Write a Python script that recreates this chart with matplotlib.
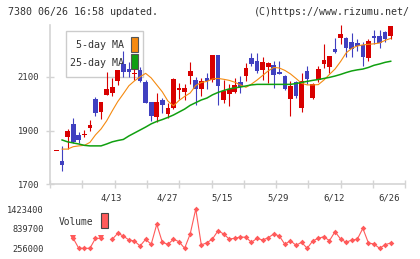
import matplotlib
matplotlib.use('Agg')
import matplotlib.pyplot as plt
import matplotlib.transforms as mtransforms
from matplotlib.patches import Rectangle
import numpy as np

nan = np.nan

# Daily candles (61 trading days)
opens = [1823, 1788, 1875, 1925, 1884, 1885, 1910, 2017, 1970, 2034,
         2040, 2085, 2146, 2129, 2112, 2126, 2082, 2006, 1950, 2014,
         1961, 1985, 2050, 2044, 2104, 2088, 2054, 2096, 2088, 2181,
         2014, 2036, 2042, 2081, 2104, 2169, 2158, 2127, 2138, 2144,
         2119, 2104, 2018, 2081, 1985, 2122, 2020, 2088, 2146, 2138,
         2204, 2246, 2245, 2230, 2225, 2219, 2171, 2252, 2252, 2267,
         2252]
highs = [1823, 1844, 1905, 1948, 1893, 1902, 1940, 2025, 2008, 2117,
         2096, 2127, 2197, 2154, 2130, 2138, 2090, 2007, 2039, 2023,
         2002, 2097, 2078, 2075, 2155, 2100, 2096, 2114, 2183, 2183,
         2088, 2072, 2095, 2103, 2152, 2187, 2189, 2173, 2157, 2160,
         2160, 2107, 2085, 2086, 2113, 2141, 2076, 2141, 2222, 2179,
         2246, 2293, 2249, 2265, 2241, 2231, 2241, 2275, 2275, 2272,
         2290]
lows = [1823, 1751, 1833, 1855, 1852, 1877, 1897, 1953, 1943, 2034,
        2029, 2070, 2100, 2101, 2088, 2082, 2003, 1937, 1932, 1967,
        1946, 1979, 2018, 2014, 2072, 1994, 2029, 2055, 2082, 1995,
        2004, 1992, 2041, 2041, 2085, 2139, 2113, 2088, 2078, 2060,
        2111, 2051, 1955, 2023, 1970, 2073, 2016, 2079, 2134, 2116,
        2190, 2222, 2175, 2175, 2196, 2141, 2160, 2221, 2209, 2230,
        2240]
closes = [1823, 1772, 1898, 1856, 1866, 1889, 1921, 1967, 2008, 2055,
          2062, 2126, 2119, 2118, 2116, 2083, 2004, 1955, 2005, 1996,
          1984, 2093, 2058, 2059, 2122, 2056, 2085, 2086, 2182, 2067,
          2047, 2054, 2070, 2063, 2133, 2148, 2123, 2155, 2153, 2108,
          2112, 2056, 2067, 2029, 2085, 2092, 2073, 2130, 2163, 2178,
          2194, 2260, 2209, 2203, 2216, 2175, 2234, 2243, 2227, 2240,
          2290]

ma5 = [nan, 1831, 1831, 1840, 1843, 1845, 1856, 1884, 1906, 1936,
       1973, 2008, 2037, 2067, 2085, 2100, 2113, 2096, 2070, 2044,
       2010, 1992, 2012, 2027, 2040, 2068, 2079, 2083, 2092, 2094,
       2091, 2087, 2080, 2070, 2061, 2073, 2088, 2105, 2122, 2135,
       2133, 2124, 2111, 2094, 2076, 2070, 2070, 2071, 2088, 2109,
       2129, 2157, 2189, 2206, 2215, 2219, 2221, 2223, 2226, 2236,
       2243]
ma25 = [nan, 1865, 1858, 1854, 1850, 1845, 1843, 1843, 1843, 1850,
        1858, 1863, 1867, 1880, 1891, 1902, 1913, 1925, 1934, 1941,
        1949, 1958, 1969, 1980, 1994, 2004, 2014, 2021, 2033, 2042,
        2049, 2055, 2059, 2062, 2066, 2070, 2072, 2072, 2072, 2072,
        2072, 2072, 2072, 2075, 2079, 2083, 2087, 2090, 2094, 2098,
        2103, 2109, 2116, 2122, 2126, 2129, 2135, 2143, 2148, 2154,
        2158]

volume = [nan, nan, nan, 553000, 256000, 256000, 256000, 553000, 553000, nan,
          523000, 701600, 621400, 502500, 472800, 324300, 523000, 374800, 969000, 434200,
          374800, 523000, 452000, 256000, 680800, 1423400, 354000, 422000, 532000, 778800,
          680800, 532000, 553000, 591700, 582800, 434200, 553000, 502500, 570900, 680800,
          621400, 374800, 481800, 345000, 434200, 256000, 472800, 553000, 600600, 481800,
          749100, 532000, 434200, 502500, 523000, 850100, 413400, 383700, 256000, 363000,
          413400]

date_labels = ['4/13', '4/27', '5/15', '5/29', '6/12', '6/26']
date_index = [10, 20, 30, 40, 50, 60]
price_ticks = [1700, 1900, 2100]
vol_ticks = [256000, 839700, 1423400]

W, H = 420, 259
RED = '#d80000'
BLUE = '#4040c0'
ORANGE = '#f58a10'
GREEN = '#10a010'
VOLC = '#ff5a5a'
GRID = '#d4d4d4'
TXT = '#333333'
MONO = 'DejaVu Sans Mono'


def fx(x):
    return x / W


def fy(y):
    return 1 - y / H


fig = plt.figure(figsize=(4.2, 2.59), dpi=100, facecolor='white')

# price panel
ax = fig.add_axes([fx(50), fy(184.3), fx(355.3), 159.3 / H])
x = np.arange(len(closes))
o = np.array(opens, dtype=float)
c = np.array(closes, dtype=float)
colors = [RED if ci >= oi else BLUE for oi, ci in zip(o, c)]
ax.vlines(x, lows, highs, colors=colors, linewidth=0.8, zorder=3)
body_h = np.maximum(np.abs(c - o), 4)
ax.bar(x, body_h, bottom=np.minimum(o, c), width=0.84, color=colors,
       linewidth=0, zorder=4)
ax.plot(x, ma5, color=ORANGE, linewidth=0.8, zorder=5)
ax.plot(x, ma25, color=GREEN, linewidth=1.1, zorder=5)

ax.set_xlim(-1.167, 62.62)
ax.set_ylim(1700, 2293)
ax.set_xticks(np.linspace(-1.167, 62.62, 12))
ax.set_xticklabels([])
ax.set_yticks(price_ticks)
ax.set_yticklabels([str(t) for t in price_ticks], fontsize=6.4,
                   family=MONO, color=TXT)
ax.tick_params(axis='x', direction='inout', length=5.8, width=1, color=GRID)
ax.tick_params(axis='y', direction='inout', length=5.8, width=1, color=GRID,
               pad=5)
for s in ['top', 'right']:
    ax.spines[s].set_visible(False)
for s in ['left', 'bottom']:
    ax.spines[s].set_color(GRID)
    ax.spines[s].set_linewidth(1.2)

# date labels under the price panel
trans = mtransforms.blended_transform_factory(ax.transData, fig.transFigure)
for lab, i in zip(date_labels, date_index):
    ax.text(i - 0.2, fy(198.3), lab, transform=trans, ha='center', va='center',
            fontsize=6.4, family=MONO, color=TXT, clip_on=False)

# MA legend box
ax.add_patch(Rectangle((fx(65.7), fy(77.3)), fx(77.6), 46.6 / H,
                       transform=fig.transFigure, facecolor='white',
                       edgecolor='#cccccc', linewidth=1, zorder=1))
ax.text(fx(124.5), fy(45.5), '5-day MA', transform=fig.transFigure,
        ha='right', va='center', fontsize=7.2, family=MONO, color=TXT, zorder=2)
ax.text(fx(124.5), fy(62.5), '25-day MA', transform=fig.transFigure,
        ha='right', va='center', fontsize=7.2, family=MONO, color=TXT, zorder=2)
ax.add_patch(Rectangle((fx(131), fy(52.3)), fx(6.7), 15 / H,
                       transform=fig.transFigure, facecolor=ORANGE,
                       edgecolor='#555555', linewidth=0.8, zorder=2))
ax.add_patch(Rectangle((fx(131), fy(69.3)), fx(6.7), 15 / H,
                       transform=fig.transFigure, facecolor=GREEN,
                       edgecolor='#555555', linewidth=0.8, zorder=2))

# volume panel
vax = fig.add_axes([fx(50), fy(255), fx(355.3), 55 / H])
vax.patch.set_visible(False)
vol = np.array(volume, dtype=float)
vax.plot(x, vol, color=VOLC, linewidth=0.8, marker='D', markersize=2.9,
         markeredgewidth=0, zorder=3)
tri = [3, 8]
vax.plot(x[tri], vol[tri], linestyle='none', marker='v', markersize=4.2,
         color=VOLC, markeredgewidth=0, zorder=4)
vax.set_xlim(-1.167, 62.62)
vax.set_ylim(56976, 1690750)
vax.set_xticks([])
vax.set_yticks(vol_ticks)
vax.set_yticklabels([str(t) for t in vol_ticks], fontsize=6.2, family=MONO,
                    color=TXT)
vax.tick_params(axis='y', length=0, pad=4.3)
for s in vax.spines.values():
    s.set_visible(False)

fig.text(fx(59), fy(221.7), 'Volume', ha='left', va='center', fontsize=6.9,
         family=MONO, color=TXT)
fig.patches.append(Rectangle((fx(101), fy(228.3)), fx(6.7), 15 / H,
                             transform=fig.transFigure, facecolor=VOLC,
                             edgecolor='#444444', linewidth=0.8))

# header
fig.text(fx(8), fy(12.3), '7380 06/26 16:58 updated.', ha='left',
         va='center', fontsize=7.2, family=MONO, color=TXT)
fig.text(fx(410), fy(12.3), '(C)https://www.rizumu.net/', ha='right',
         va='center', fontsize=7.2, family=MONO, color=TXT)

fig.savefig('out.png', dpi=100, facecolor='white')
